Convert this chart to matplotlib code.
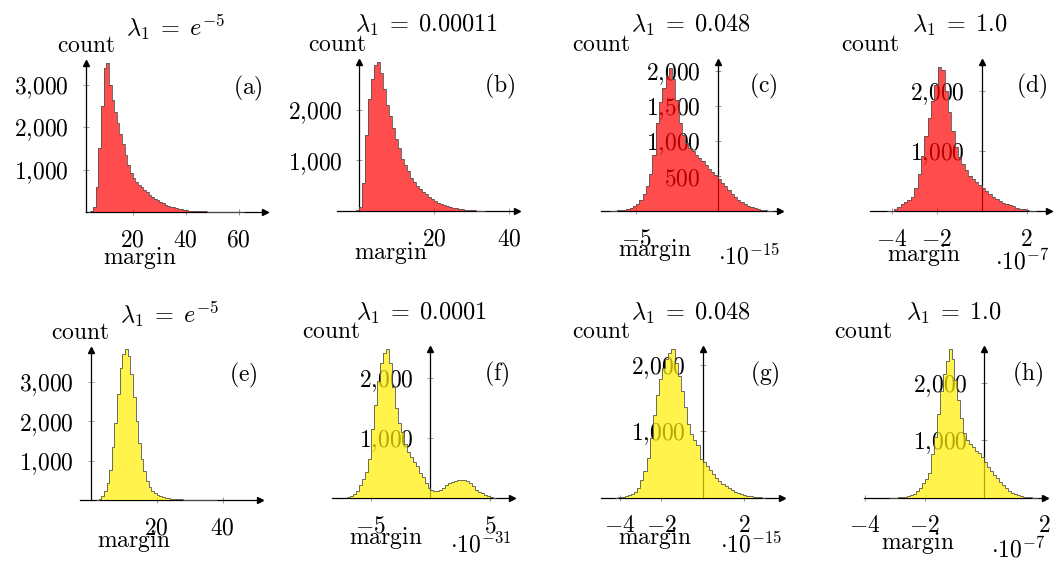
import numpy as np
import matplotlib
matplotlib.use("Agg")
import matplotlib.pyplot as plt

plt.rcParams['mathtext.fontset'] = 'cm'
plt.rcParams['font.size'] = 17

W, H = 1054, 563

# titles, tags and power-of-ten labels of the eight panels
titles = [r'$\lambda_1\;=\;e^{-5}$', r'$\lambda_1\;=\;0.00011$', r'$\lambda_1\;=\;0.048$',
          r'$\lambda_1\;=\;1.0$', r'$\lambda_1\;=\;e^{-5}$', r'$\lambda_1\;=\;0.0001$',
          r'$\lambda_1\;=\;0.048$', r'$\lambda_1\;=\;1.0$']
tags = ['(a)', '(b)', '(c)', '(d)', '(e)', '(f)', '(g)', '(h)']
scales = [None, None, r'$\cdot 10^{-15}$', r'$\cdot 10^{-7}$',
          None, r'$\cdot 10^{-31}$', r'$\cdot 10^{-15}$', r'$\cdot 10^{-7}$']

# histograms: first bin edge, bin width, counts per bin
a_start, a_width = 3.0, 1.0
a_counts = [5, 20, 120, 600, 1500, 2500, 3400, 3520, 3000, 2650, 2350, 2100, 1850, 1600, 1350,
            1100, 920, 800, 710, 640, 580, 520, 470, 410, 350, 310, 280, 240, 210, 175, 150, 125,
            110, 90, 70, 60, 50, 42, 35, 30, 25, 22, 18, 15, 12, 10, 8, 7, 6, 5, 5, 4, 3, 3, 2, 2,
            2, 1, 1]
b_start, b_width = -0.8, 0.8
b_counts = [10, 80, 550, 1500, 2200, 2600, 2880, 2940, 2720, 2400, 2100, 1880, 1640, 1430, 1240,
            1030, 900, 780, 660, 570, 490, 430, 370, 330, 280, 230, 190, 160, 130, 110, 90, 78, 64,
            50, 40, 32, 24, 18, 14, 10, 7, 5, 3]
c_start, c_width = -6.6, 0.2
c_counts = [2, 4, 8, 12, 18, 25, 40, 70, 100, 160, 240, 360, 520, 800, 1250, 1550, 1750, 1920,
            2040, 1880, 1580, 1250, 1080, 960, 900, 850, 800, 750, 710, 650, 600, 560, 510, 450,
            400, 350, 300, 240, 190, 150, 120, 95, 75, 55, 40, 25, 15, 8, 4, 2]
d_start, d_width = -4.2, 0.15
d_counts = [3, 8, 25, 60, 110, 150, 180, 240, 380, 620, 910, 1250, 1550, 1830, 2100, 2400, 2350,
            2000, 1650, 1330, 1060, 900, 790, 690, 590, 540, 480, 430, 380, 330, 280, 240, 200,
            170, 140, 115, 95, 75, 55, 40, 28, 15, 8, 4]
e_start, e_width = 1.6, 0.8
e_counts = [10, 30, 90, 220, 420, 760, 1360, 1950, 2700, 3370, 3720, 3830, 3660, 3200, 2620, 2000,
            1460, 1040, 740, 480, 320, 240, 170, 130, 100, 80, 62, 48, 38, 30, 22, 17, 13, 10, 8,
            6, 5, 4, 3, 3, 2, 2, 2, 1, 1, 1]
f_start, f_width = -7.0, 0.25
f_counts = [10, 25, 60, 110, 220, 320, 430, 650, 1150, 1550, 1950, 2250, 2420, 2490, 2250, 1850,
            1500, 1250, 1100, 900, 760, 680, 600, 530, 420, 340, 240, 170, 130, 120, 110, 125, 160,
            210, 250, 270, 280, 290, 300, 290, 280, 240, 190, 130, 100, 75, 55, 30, 15, 5]
g_start, g_width = -4.2, 0.15
g_counts = [3, 6, 12, 22, 35, 55, 90, 150, 260, 400, 600, 900, 1250, 1550, 1780, 1950, 2080, 2180,
            2240, 2030, 1830, 1600, 1360, 1110, 960, 870, 790, 580, 540, 480, 420, 350, 300, 250,
            210, 180, 145, 115, 90, 70, 50, 40, 28, 20, 13, 8, 5, 3]
h_start, h_width = -3.2, 0.1
h_counts = [2, 3, 5, 7, 10, 15, 25, 45, 70, 120, 170, 260, 330, 430, 760, 1060, 1450, 1850, 2150,
            2380, 2590, 2400, 2050, 1700, 1380, 1130, 1000, 930, 880, 820, 780, 700, 620, 540, 470,
            400, 340, 280, 220, 170, 120, 90, 60, 42, 30, 20, 14, 9, 5, 3]

hists = [(a_start, a_width, a_counts), (b_start, b_width, b_counts),
         (c_start, c_width, c_counts), (d_start, d_width, d_counts),
         (e_start, e_width, e_counts), (f_start, f_width, f_counts),
         (g_start, g_width, g_counts), (h_start, h_width, h_counts)]

xlims = [(2.4, 70), (-6, 42), (-7.14, 3.8), (-4.96, 3.0),
         (-3.2, 51.3), (-8.3, 6.8), (-4.9, 3.8), (-4.05, 2.03)]
ymaxs = [3514, 2945, 2126, 2488, 3817, 2478, 2229, 2577]
xticks = [[20, 40, 60], [20, 40], [-5], [-4, -2, 2],
          [20, 40], [-5, 5], [-4, -2, 2], [-4, -2, 2]]
yticks = [[1000, 2000, 3000], [1000, 2000], [500, 1000, 1500, 2000], [1000, 2000],
          [1000, 2000, 3000], [1000, 2000], [1000, 2000], [1000, 2000]]
colors = ['#ff0000'] * 4 + ['#ffee00'] * 4

# layout in pixels: left, right, x-axis row, top
boxes = [(86.1, 265.2, 212, 63), (336.8, 516.8, 211, 61.7), (601.3, 779.6, 210.8, 61.7),
         (870.1, 1049.2, 211, 61.7), (80.1, 260, 500, 350), (331.5, 511.6, 497.8, 349.3),
         (600.8, 781.7, 497.8, 349.3), (863.6, 1044.8, 497.8, 349.3)]
xlab_drop = [46, 42, 39, 44, 41, 40, 40, 45]
scale_drop = [0, 0, 46, 51, 0, 47, 47, 52]


def num(v):
    s = f'{v:,}'.replace(',', '{,}')
    return '$' + s + '$'


fig = plt.figure(figsize=(W / 100, H / 100), dpi=100)

for i in range(8):
    x0, x1, y0, y1 = boxes[i]
    ax = fig.add_axes([x0 / W, 1 - y0 / H, (x1 - x0) / W, (y0 - y1) / H])
    ax.patch.set_visible(False)
    ax.set_xlim(xlims[i])
    ax.set_ylim(0, ymaxs[i])
    ax.set_axisbelow(True)
    ax.spines['top'].set_visible(False)
    ax.spines['right'].set_visible(False)
    yx = max(0, xlims[i][0])
    ax.spines['left'].set_position(('data', yx))
    ax.spines['bottom'].set_position(('data', 0))
    for s in ['left', 'bottom']:
        ax.spines[s].set_linewidth(0.9)
        ax.spines[s].set_zorder(0.6)

    ax.set_xticks(xticks[i], labels=[num(v) for v in xticks[i]])
    ax.set_yticks(yticks[i], labels=[num(v) for v in yticks[i]])
    ax.tick_params(direction='inout', length=4.5, width=0.7, color='0.6')
    ax.tick_params(axis='x', pad=9)
    ax.tick_params(axis='y', pad=10)

    start, width, counts = hists[i]
    edges = start + width * np.arange(len(counts) + 1)
    ax.stairs(counts, edges, fill=True, color=colors[i], alpha=0.7, lw=0, zorder=2,
              clip_on=False)
    ax.stairs(counts, edges, baseline=0, color='#555555', lw=0.6, zorder=3, clip_on=False)

    # arrow heads
    ax.plot(1, 0, '>', color='k', ms=5, transform=ax.get_yaxis_transform(), clip_on=False,
            zorder=0.7)
    ax.plot(yx, 1, '^', color='k', ms=5, transform=ax.get_xaxis_transform(), clip_on=False,
            zorder=0.7)

    ax.annotate(titles[i], xy=(0.5, 1), xycoords='axes fraction', xytext=(0, 36),
                textcoords='offset pixels', ha='center', va='center', fontsize=17.5)
    ax.annotate(r'$\mathrm{count}$', xy=(0, 1), xycoords='axes fraction', xytext=(0, 18),
                textcoords='offset pixels', ha='center', va='center')
    ax.annotate(r'$\mathrm{' + tags[i] + '}$', xy=(1, 1), xycoords='axes fraction',
                xytext=(-2, -25), textcoords='offset pixels', ha='right', va='center')
    ax.annotate(r'$\mathrm{margin}$', xy=(0.5, 0), xycoords='axes fraction',
                xytext=(-36, -xlab_drop[i]), textcoords='offset pixels', ha='center',
                va='center')
    if scales[i]:
        ax.annotate(scales[i], xy=(1, 0), xycoords='axes fraction', xytext=(0, -scale_drop[i]),
                    textcoords='offset pixels', ha='right', va='center')

fig.savefig('out.png', dpi=100)
